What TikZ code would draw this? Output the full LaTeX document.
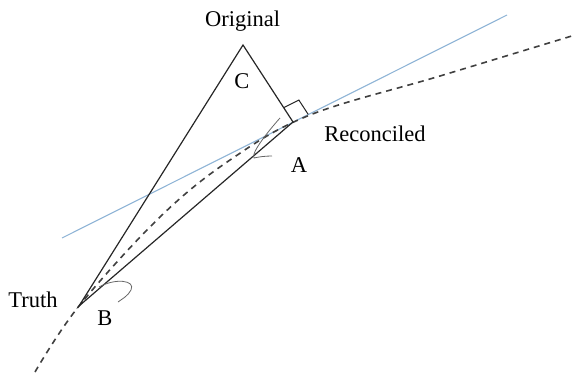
\documentclass[tikz,border=0pt]{standalone}
\usepackage{fontspec}
\setmainfont{Liberation Serif}
\definecolor{tanblue}{HTML}{8FB4D6}
\begin{document}
\begin{tikzpicture}[
    x=1pt, y=-1pt,
    label/.style={anchor=base, inner sep=0pt, font=\fontsize{22.5}{27}\selectfont},
    edge/.style={draw=black!85, line width=1.2pt},
    tangent/.style={draw=tanblue, line width=1.1pt},
    truecurve/.style={draw=black!75, line width=1.6pt, dash pattern=on 6pt off 5pt},
    anglemark/.style={draw=black!60, line width=0.8pt},
]
    \useasboundingbox (0,0) rectangle (575,377);

    % Points
    \coordinate (orig) at (243,45);
    \coordinate (recon) at (293,122);
    \coordinate (truth) at (79,306);
    \coordinate (tanstart) at (62,238);
    \coordinate (tanend) at (507,15);

    % Tangent line and true curve
    \draw[tangent] (tanstart) -- (tanend);
    \draw[truecurve] plot[smooth, tension=0.6] coordinates {
        (35,372) (truth) (160,217) (230,160) (310,115) (440,76) (575,35)};

    % Triangle
    \draw[edge] (truth) -- (orig) -- (recon) -- cycle;

    % Right angle at the reconciled point
    \draw[edge, line width=1pt] (283.7,107.7) -- (298.9,100.1) -- (308.2,114.4);

    % Angle marks
    \draw[anglemark] (280,118) .. controls (264,136) and (251,154) .. (254,158)
        .. controls (258,157) and (265,156) .. (272,156);
    \draw[anglemark] (99,287) .. controls (115,278) and (136,280) .. (131,290)
        .. controls (128,296) and (122,299) .. (118,302);

    % Labels
    \node[label] (lorig) at (242.5,27) {Original};
    \node[label] (lc) at (242,89) {C};
    \node[label] (lrecon) at (375,142) {Reconciled};
    \node[label] (la) at (299,172) {A};
    \node[label] (ltruth) at (33,307) {Truth};
    \node[label] (lb) at (105,325) {B};
\end{tikzpicture}
\end{document}
